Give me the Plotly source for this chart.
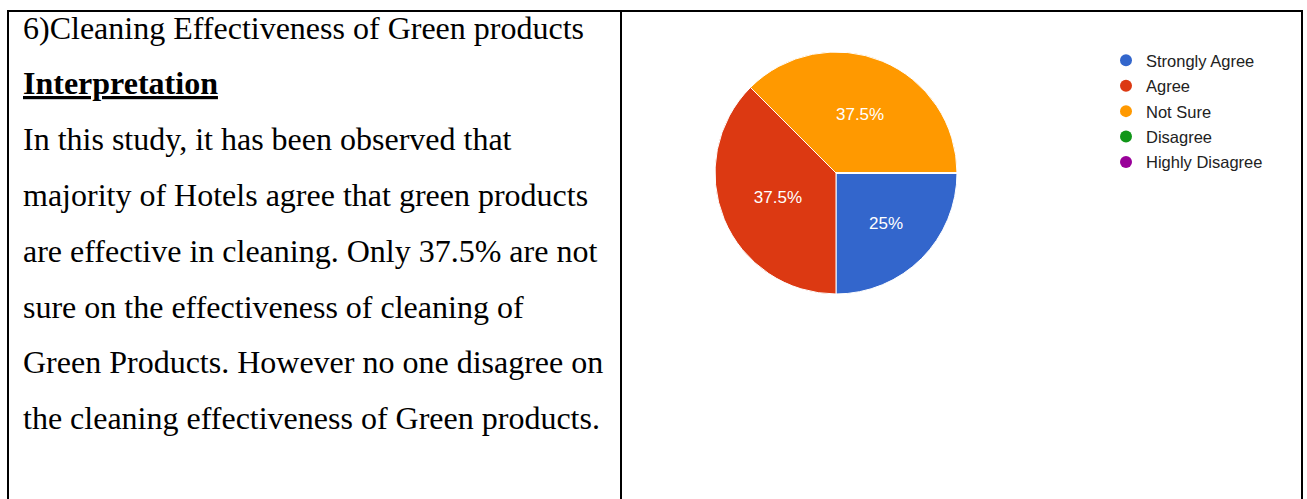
import plotly.graph_objects as go

# ---- data ----
categories = ["Strongly Agree", "Agree", "Not Sure", "Disagree", "Highly Disagree"]
values = [2, 3, 3, 0, 0]
colors = ["#3366cc", "#dc3912", "#ff9900", "#109618", "#990099"]

title_text = "6)Cleaning Effectiveness of Green products"
heading_text = "Interpretation"
body_lines = [
    "In this study, it has been observed that",
    "majority of Hotels agree that green products",
    "are effective in cleaning. Only 37.5% are not",
    "sure on the effectiveness of cleaning of",
    "Green Products. However no one disagree on",
    "the cleaning effectiveness of Green products.",
]

W, H = 1307, 499
fig = go.Figure()

# pie
cx, cy, r = 836, 173, 121
fig.add_trace(go.Pie(
    labels=categories, values=values, sort=False, direction="clockwise",
    rotation=90, showlegend=False,
    marker=dict(colors=colors, line=dict(color="white", width=1)),
    textinfo="percent", textposition="inside", insidetextorientation="horizontal",
    textfont=dict(family="Arial, Liberation Sans", size=17, color="white"),
    domain=dict(x=[(cx - r) / W, (cx + r) / W], y=[1 - (cy + r) / H, 1 - (cy - r) / H]),
    hoverinfo="label+percent",
))

# legend entries (circle markers)
for cat, col in zip(categories, colors):
    fig.add_trace(go.Scatter(
        x=[None], y=[None], mode="markers", name=cat,
        marker=dict(color=col, size=13, symbol="circle"),
        legendgroup=cat,
    ))

# text in left cell
font_serif = "Liberation Serif, Times New Roman, serif"
fs = 32
x0 = 21
line_h = 55.8
y_first = 27.5
all_lines = [title_text, "<b><u>" + heading_text + "</u></b>"] + body_lines
for i, t in enumerate(all_lines):
    fig.add_annotation(
        x=x0, y=y_first + i * line_h, xref="x", yref="y", text=t,
        showarrow=False, xanchor="left", yanchor="middle",
        font=dict(family=font_serif, size=fs, color="black"),
    )

# table borders
border = dict(color="black", width=2)
fig.add_shape(type="line", x0=7, x1=1303, y0=11, y1=11, xref="x", yref="y", line=border)
for xv in (8, 621, 1302):
    fig.add_shape(type="line", x0=xv, x1=xv, y0=11, y1=H, xref="x", yref="y", line=border)

fig.update_layout(
    width=W, height=H,
    margin=dict(l=0, r=0, t=0, b=0),
    paper_bgcolor="white", plot_bgcolor="white",
    xaxis=dict(range=[0, W], visible=False, fixedrange=True),
    yaxis=dict(range=[H, 0], visible=False, fixedrange=True),
    legend=dict(
        x=1106 / W, y=1 - 43 / H, xanchor="left", yanchor="top",
        font=dict(family="Arial, Liberation Sans", size=16.5, color="#222222"),
        bgcolor="rgba(0,0,0,0)", tracegroupgap=1, itemsizing="constant",
    ),
)

fig.write_html("out.html")
